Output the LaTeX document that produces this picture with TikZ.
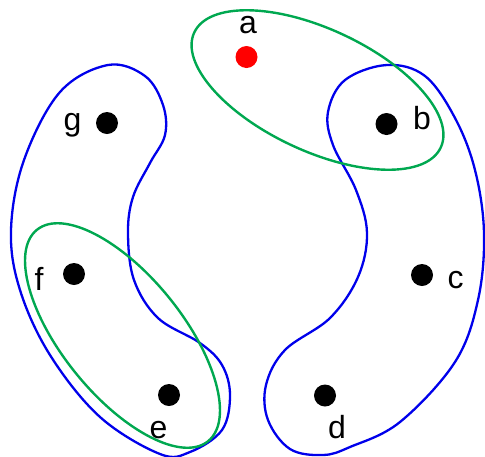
\documentclass[tikz,border=0pt]{standalone}
\usepackage{fontspec}
\setmainfont{Liberation Sans}
\definecolor{hgreen}{RGB}{0,168,80}
\definecolor{hblue}{RGB}{0,0,235}
\begin{document}
\begin{tikzpicture}[x=1pt,y=-1pt,
  dot/.style={circle,fill=black,draw=none,inner sep=0pt,minimum size=22pt},
  lab/.style={inner sep=0pt,font=\fontsize{32}{38}\selectfont},
  bean/.style={draw=hblue,line width=2.3pt},
  edge/.style={draw=hgreen,line width=2.4pt}]
\useasboundingbox (0,0) rectangle (485,456);
% blue beans
\path[bean] plot[smooth cycle,tension=0.6] coordinates {
 (108,65) (145,76) (163,105) (165,135) (150,163) (133,197) (128,233)
 (134,280) (158,318) (200,343) (222,365) (230,395) (222,430)
 (190,452) (160,454) (100,417) (50,355) (20,290) (11,230)
 (24,160) (60,92)};
\path[bean] plot[smooth cycle,tension=0.6] coordinates {
 (387,65) (425,76) (455,118) (475,170) (484,233) (478,300) (455,362)
 (400,422) (350,447) (323,455) (290,449) (268,420) (266,385) (285,350)
 (330,318) (358,277) (367,233) (356,190) (333,145)
 (328,112) (345,80)};
% green ellipses
\path[edge] (317.5,90) ellipse [x radius=136, y radius=61, rotate=-25];
\path[edge] (122.5,335.5) ellipse [x radius=136, y radius=60, rotate=-51];
% dots
\node[dot,fill=red] (a) at (246.5,57) {};
\node[dot] (b) at (386.5,124) {};
\node[dot] (c) at (422,275) {};
\node[dot] (d) at (325,395.5) {};
\node[dot] (e) at (169,395) {};
\node[dot] (f) at (74,274) {};
\node[dot] (g) at (107,123) {};
% labels
\node[lab] (la) at (248,25) {a};
\node[lab] (lb) at (422,118) {b};
\node[lab] (lc) at (455.5,280) {c};
\node[lab] (ld) at (337,427) {d};
\node[lab] (le) at (158.5,430) {e};
\node[lab] (lf) at (39,279) {f};
\node[lab] (lg) at (72.5,125) {g};
\end{tikzpicture}
\end{document}
